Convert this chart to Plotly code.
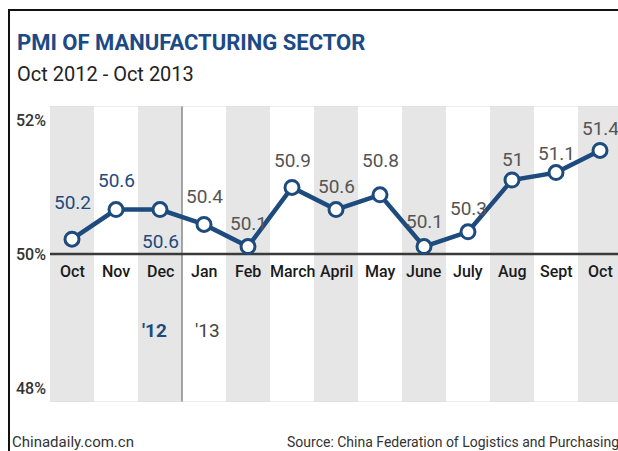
import plotly.graph_objects as go

months = ["Oct", "Nov", "Dec", "Jan", "Feb", "March", "April", "May", "June", "July", "Aug", "Sept", "Oct"]
pmi = [50.2, 50.6, 50.6, 50.4, 50.1, 50.9, 50.6, 50.8, 50.1, 50.3, 51.0, 51.1, 51.4]
value_text = ["50.2", "50.6", "50.6", "50.4", "50.1", "50.9", "50.6", "50.8", "50.1", "50.3", "51", "51.1", "51.4"]
y_ticks = [52, 50, 48]
y_tick_text = ["52%", "50%", "48%"]
year_labels = ["'12", "'13"]

W, H = 618, 451
L, R_PX, T, B_PX = 50, 618, 106, 402
FONT = "Roboto, Lato, sans-serif"
NAVY = "#1d4b7d"
GREY_TXT = "#555555"


def px(rx):
    return (rx - L) / (R_PX - L)


def py(ry):
    return (B_PX - ry) / (B_PX - T)


x = list(range(len(months)))
x_max = -0.5 + (R_PX - L) / 44.0

fig = go.Figure()

shapes = []
for i in x:
    if i % 2 == 0:
        shapes.append(dict(type="rect", xref="x", yref="y", x0=i - 0.5, x1=i + 0.5,
                           y0=48, y1=52, fillcolor="#e6e6e6", line=dict(width=0), layer="below"))
shapes.append(dict(type="line", xref="x", yref="y", x0=2.5, x1=2.5, y0=48, y1=52,
                   line=dict(color="#8a8a8a", width=1.5), layer="below"))
for v in (52, 48):
    shapes.append(dict(type="line", xref="x", yref="y", x0=-0.5, x1=x_max, y0=v, y1=v,
                       line=dict(color="#dcdcdc", width=1), layer="below"))
shapes.append(dict(type="line", xref="x", yref="y", x0=-0.5, x1=x_max, y0=50, y1=50,
                   line=dict(color="#3a3a3a", width=2.5), layer="below"))
# frame lines (top and left)
shapes.append(dict(type="line", xref="paper", yref="paper", x0=px(8), x1=px(630), y0=py(10), y1=py(10),
                   line=dict(color="#111111", width=2)))
shapes.append(dict(type="line", xref="paper", yref="paper", x0=px(9), x1=px(9), y0=py(9), y1=py(460),
                   line=dict(color="#111111", width=2)))

fig.add_trace(go.Scatter(
    x=x, y=pmi, mode="lines+markers",
    line=dict(color=NAVY, width=4.5),
    marker=dict(size=14, color="white", line=dict(color=NAVY, width=3)),
    hoverinfo="skip", showlegend=False, cliponaxis=False,
))

annotations = []
offsets = [37, 29, -32, 28, 23, 27, 23, 34, 25, 23, 21, 19, 22]
for i, (v, t) in enumerate(zip(pmi, value_text)):
    annotations.append(dict(x=i, y=v, xref="x", yref="y", text=t, showarrow=False,
                            yshift=offsets[i], xanchor="center", yanchor="middle",
                            font=dict(family=FONT, size=19, color=NAVY if i < 3 else GREY_TXT)))
for i, m in enumerate(months):
    annotations.append(dict(x=i, y=50, xref="x", yref="y", text=m, showarrow=False,
                            yshift=-17, xanchor="center", yanchor="middle",
                            font=dict(family=FONT, size=16, color="#1a1a1a", weight=500)))
annotations.append(dict(x=1.886, y=50, xref="x", yref="y", text="<b>" + year_labels[0] + "</b>",
                        showarrow=False, yshift=-76, xanchor="center", yanchor="middle",
                        font=dict(family=FONT, size=19, color=NAVY)))
annotations.append(dict(x=3.09, y=50, xref="x", yref="y", text=year_labels[1],
                        showarrow=False, yshift=-76, xanchor="center", yanchor="middle",
                        font=dict(family=FONT, size=19, color="#444444")))
y_anchor = {52: ("top", -3), 50: ("middle", 0), 48: ("bottom", 2)}
for v, t in zip(y_ticks, y_tick_text):
    ya, sh = y_anchor[v]
    annotations.append(dict(x=px(48), y=v, xref="paper", yref="y", text=t, showarrow=False,
                            xanchor="right", yanchor=ya, yshift=sh,
                            font=dict(family=FONT, size=16, color="#333333", weight=500)))
annotations.append(dict(x=px(15), y=py(43), xref="paper", yref="paper",
                        text="<b>PMI OF MANUFACTURING SECTOR</b>", showarrow=False,
                        xanchor="left", yanchor="middle",
                        font=dict(family=FONT, size=22, color="#1b4a86")))
annotations.append(dict(x=px(15), y=py(74), xref="paper", yref="paper",
                        text="Oct 2012 - Oct 2013", showarrow=False,
                        xanchor="left", yanchor="middle",
                        font=dict(family=FONT, size=20, color="#222222")))
annotations.append(dict(x=px(10), y=py(442), xref="paper", yref="paper",
                        text="Chinadaily.com.cn", showarrow=False,
                        xanchor="left", yanchor="middle",
                        font=dict(family=FONT, size=15, color="#333333")))
annotations.append(dict(x=px(285), y=py(442), xref="paper", yref="paper",
                        text="Source: China Federation of Logistics and Purchasing", showarrow=False,
                        xanchor="left", yanchor="middle",
                        font=dict(family=FONT, size=14, color="#333333")))

fig.update_layout(
    width=W, height=H,
    margin=dict(l=L, r=W - R_PX, t=T, b=H - B_PX, pad=0),
    paper_bgcolor="white", plot_bgcolor="white",
    shapes=shapes, annotations=annotations,
    xaxis=dict(range=[-0.5, x_max], showgrid=False, zeroline=False, showticklabels=False,
               showline=False, fixedrange=True),
    yaxis=dict(range=[48, 52], showgrid=False, zeroline=False, showticklabels=False,
               showline=False, fixedrange=True),
)

fig.write_html(
    "out.html",
    config={"displayModeBar": False},
    post_script="document.body.style.margin='0';document.body.style.overflow='hidden';",
)
